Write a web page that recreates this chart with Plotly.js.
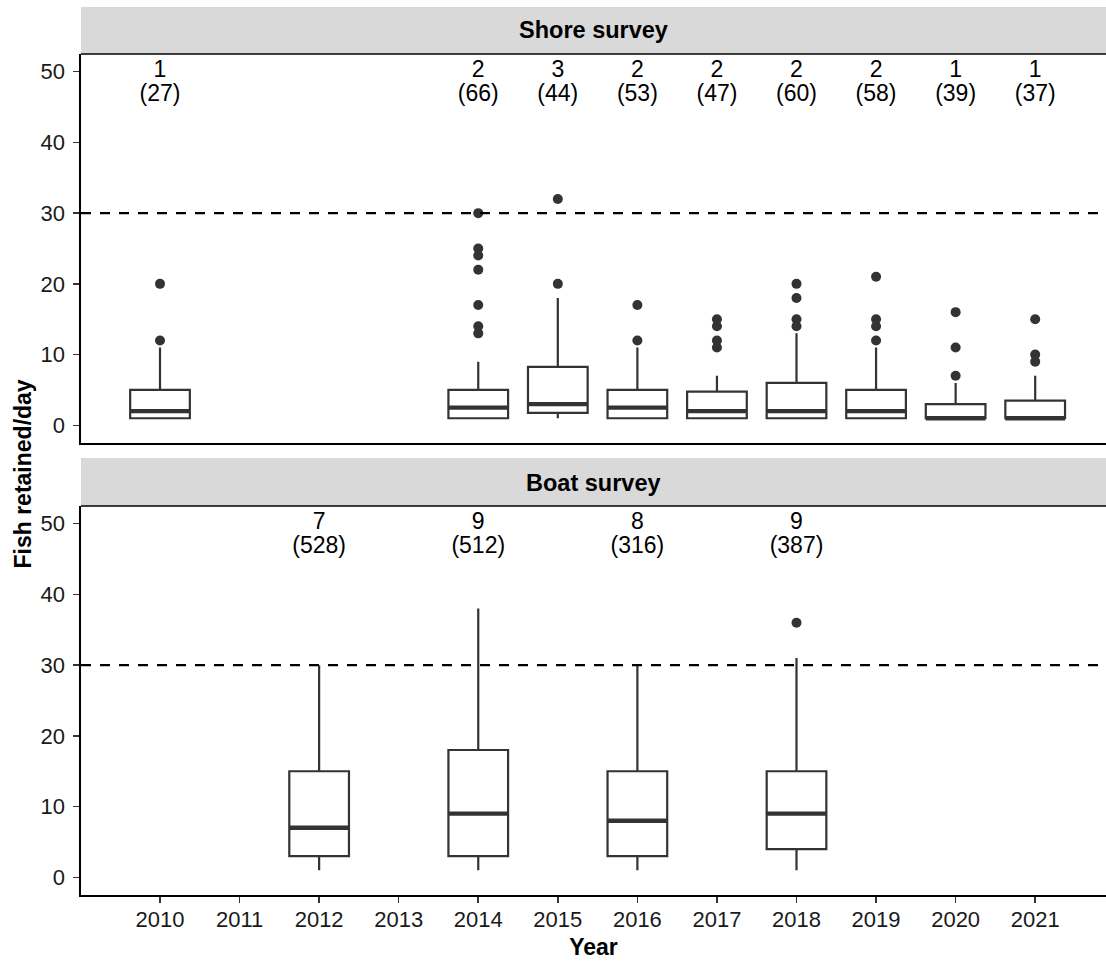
<!DOCTYPE html>
<html>
<head>
<meta charset="utf-8">
<script src="https://cdn.plot.ly/plotly-3.0.1.min.js"></script>
<style>html,body{margin:0;padding:0;background:#fff;}#chart{width:1106px;height:961px;}</style>
</head>
<body>
<div id="chart"></div>
<script>
// ---- Shore survey ----
const shoreYears   = [2010, 2014, 2015, 2016, 2017, 2018, 2019, 2020, 2021];
const shoreQ1      = [1, 1, 1.75, 1, 1, 1, 1, 1, 1];
const shoreMedian  = [2, 2.5, 3, 2.5, 2, 2, 2, 1, 1];
const shoreQ3      = [5, 5, 8.25, 5, 4.75, 6, 5, 3, 3.5];
const shoreLower   = [1, 1, 1, 1, 1, 1, 1, 1, 1];
const shoreUpper   = [11, 9, 18, 11, 7, 13, 11, 6, 7];
const shoreOutX    = [2010, 2010, 2014, 2014, 2014, 2014, 2014, 2014, 2014, 2015, 2015, 2016, 2016,
                      2017, 2017, 2017, 2017, 2018, 2018, 2018, 2018, 2019, 2019, 2019, 2019,
                      2020, 2020, 2020, 2021, 2021, 2021];
const shoreOutY    = [12, 20, 13, 14, 17, 22, 24, 25, 30, 20, 32, 12, 17,
                      11, 12, 14, 15, 14, 15, 18, 20, 12, 14, 15, 21,
                      7, 11, 16, 9, 10, 15];
const shoreCount   = ["1", "2", "3", "2", "2", "2", "2", "1", "1"];
const shoreN       = ["(27)", "(66)", "(44)", "(53)", "(47)", "(60)", "(58)", "(39)", "(37)"];

// ---- Boat survey ----
const boatYears    = [2012, 2014, 2016, 2018];
const boatQ1       = [3, 3, 3, 4];
const boatMedian   = [7, 9, 8, 9];
const boatQ3       = [15, 18, 15, 15];
const boatLower    = [1, 1, 1, 1];
const boatUpper    = [30, 38, 30, 31];
const boatOutX     = [2018];
const boatOutY     = [36];
const boatCount    = ["7", "9", "8", "9"];
const boatN        = ["(528)", "(512)", "(316)", "(387)"];

const facetTitles  = ["Shore survey", "Boat survey"];
const limitValue   = 30;
const xTickVals    = [2010, 2011, 2012, 2013, 2014, 2015, 2016, 2017, 2018, 2019, 2020, 2021];
const yTickVals    = [0, 10, 20, 30, 40, 50];

const FONT = "Liberation Sans, Arial, sans-serif";
const DARK = "#333333";
const BOXW = 0.75;

function medianSeg(xs, ms) {
  const x = [], y = [];
  xs.forEach((v, i) => { x.push(v - BOXW / 2, v + BOXW / 2, null); y.push(ms[i], ms[i], null); });
  return {x, y};
}

function panelTraces(xa, ya, years, q1, med, q3, lo, up, ox, oy, cnt, nn) {
  const ms = medianSeg(years, med);
  return [
    {type: 'box', xaxis: xa, yaxis: ya, x: years, q1: q1, median: med, q3: q3,
     lowerfence: lo, upperfence: up, width: BOXW, boxpoints: false, whiskerwidth: 0,
     fillcolor: '#ffffff', line: {color: DARK, width: 2.2}, hoverinfo: 'skip'},
    {type: 'scatter', mode: 'lines', xaxis: xa, yaxis: ya, x: ms.x, y: ms.y,
     line: {color: DARK, width: 4.4}, hoverinfo: 'skip'},
    {type: 'scatter', mode: 'markers', xaxis: xa, yaxis: ya, x: ox, y: oy,
     marker: {color: DARK, size: 10}, hoverinfo: 'skip'},
    {type: 'scatter', mode: 'text', xaxis: xa, yaxis: ya, x: years, y: years.map(() => 50),
     text: cnt, textposition: 'middle center', textfont: {family: FONT, size: 23, color: '#000'}, hoverinfo: 'skip'},
    {type: 'scatter', mode: 'text', xaxis: xa, yaxis: ya, x: years, y: years.map(() => 46.6),
     text: nn, textposition: 'middle center', textfont: {family: FONT, size: 23, color: '#000'}, hoverinfo: 'skip'}
  ];
}

const data = [].concat(
  panelTraces('x', 'y', shoreYears, shoreQ1, shoreMedian, shoreQ3, shoreLower, shoreUpper, shoreOutX, shoreOutY, shoreCount, shoreN),
  panelTraces('x2', 'y2', boatYears, boatQ1, boatMedian, boatQ3, boatLower, boatUpper, boatOutX, boatOutY, boatCount, boatN)
);

const plotH = 961 - 54 - 66;
const topBottom = 1 - 389 / plotH;
const botTop = 389 / plotH;
const stripH = 47 / plotH;

const yBase = {
  range: [-2.5, 52.5], tickvals: yTickVals, ticks: 'outside', ticklen: 6, tickwidth: 1.6,
  tickcolor: DARK, showline: true, linecolor: '#000', linewidth: 1.6, showgrid: false, zeroline: false,
  tickfont: {family: FONT, size: 22, color: '#1a1a1a'}, ticklabelstandoff: 4, fixedrange: true
};
const xRange = [2009.007, 2021.89];

const layout = {
  width: 1106, height: 961,
  margin: {l: 81, r: 0, t: 54, b: 66},
  paper_bgcolor: '#fff', plot_bgcolor: '#fff',
  showlegend: false,
  font: {family: FONT, color: '#000'},
  xaxis: {anchor: 'y', domain: [0, 1], range: xRange, showticklabels: false, ticks: '',
          showline: true, linecolor: '#000', linewidth: 1.6, showgrid: false, zeroline: false, fixedrange: true},
  yaxis: Object.assign({}, yBase, {domain: [topBottom, 1], anchor: 'x'}),
  xaxis2: {anchor: 'y2', domain: [0, 1], range: xRange, tickvals: xTickVals, ticktext: xTickVals.map(String),
           ticks: 'outside', ticklen: 6, tickwidth: 1.6, tickcolor: DARK,
           showline: true, linecolor: '#000', linewidth: 1.6, showgrid: false, zeroline: false,
           tickfont: {family: FONT, size: 22, color: '#1a1a1a'}, ticklabelstandoff: -2, fixedrange: true,
           title: {text: '<b>Year</b>', font: {family: FONT, size: 23, color: '#000'}, standoff: 8}},
  yaxis2: Object.assign({}, yBase, {domain: [0, botTop], anchor: 'x2'}),
  shapes: [
    {type: 'rect', xref: 'paper', yref: 'paper', x0: 0, x1: 1, y0: 1, y1: 1 + stripH,
     fillcolor: '#D9D9D9', line: {width: 0}, layer: 'below'},
    {type: 'line', xref: 'paper', yref: 'paper', x0: 0, x1: 1, y0: 1, y1: 1, line: {color: '#000', width: 1.6}},
    {type: 'rect', xref: 'paper', yref: 'paper', x0: 0, x1: 1, y0: botTop, y1: botTop + stripH + 1/plotH,
     fillcolor: '#D9D9D9', line: {width: 0}, layer: 'below'},
    {type: 'line', xref: 'paper', yref: 'paper', x0: 0, x1: 1, y0: botTop, y1: botTop, line: {color: '#000', width: 1.6}},
    {type: 'line', xref: 'paper', yref: 'y', x0: 0, x1: 1, y0: limitValue, y1: limitValue,
     line: {color: '#000', width: 2.2, dash: '10px,9px'}},
    {type: 'line', xref: 'paper', yref: 'y2', x0: 0, x1: 1, y0: limitValue, y1: limitValue,
     line: {color: '#000', width: 2.2, dash: '10px,9px'}}
  ],
  annotations: [
    {xref: 'paper', yref: 'paper', x: 0.5, y: 1 + stripH / 2, text: '<b>' + facetTitles[0] + '</b>',
     showarrow: false, font: {family: FONT, size: 23.5, color: '#000'}, xanchor: 'center', yanchor: 'middle'},
    {xref: 'paper', yref: 'paper', x: 0.5, y: botTop + stripH / 2, text: '<b>' + facetTitles[1] + '</b>',
     showarrow: false, font: {family: FONT, size: 23.5, color: '#000'}, xanchor: 'center', yanchor: 'middle'},
    {xref: 'paper', yref: 'paper', x: -81 / 1025 + 22 / 1025, y: 0.5, text: '<b>Fish retained/day</b>',
     textangle: -90, showarrow: false, font: {family: FONT, size: 23, color: '#000'}, xanchor: 'center', yanchor: 'middle'}
  ]
};

Plotly.newPlot('chart', data, layout, {displayModeBar: false, staticPlot: true});
</script>
</body>
</html>
